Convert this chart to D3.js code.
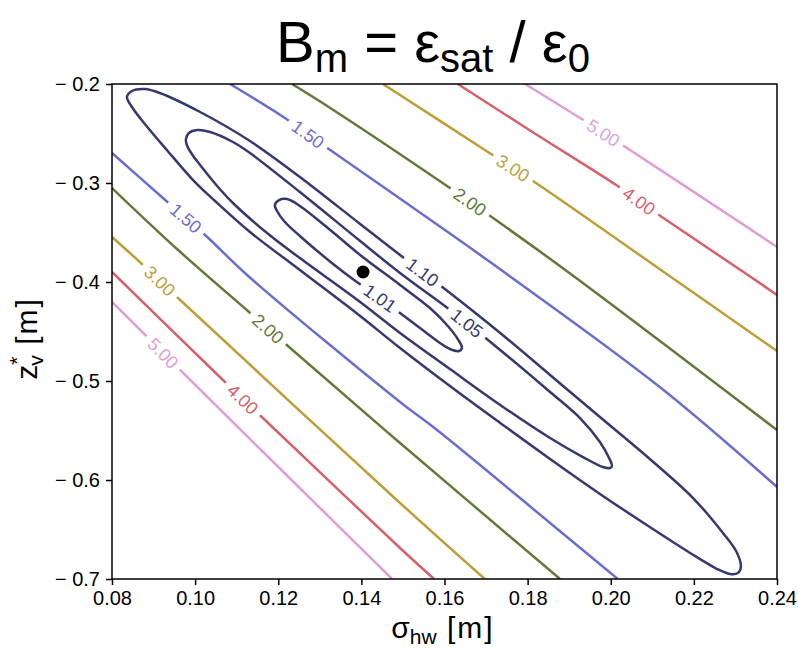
<!DOCTYPE html>
<html>
<head>
<meta charset="utf-8">
<script src="https://cdn.jsdelivr.net/npm/d3@7"></script>
<style>
  body { margin: 0; background: #fff; }
  text { font-family: 'Liberation Sans', Arial, sans-serif; }
</style>
</head>
<body>
<svg width="798" height="648"></svg>
<script>
// axis ticks
const xTicks = [0.08, 0.10, 0.12, 0.14, 0.16, 0.18, 0.20, 0.22, 0.24]
const yTicks = [-0.2, -0.3, -0.4, -0.5, -0.6, -0.7]

// closed contours round the optimum, [sigma_hw, z_v], upper side then lower side
const loop101 = [[0.1192,-0.3222],[0.1202,-0.3172],[0.1221,-0.3162],[0.1252,-0.3232],[0.1325,-0.3475],[0.1397,-0.3727],[0.1493,-0.4030],[0.1565,-0.4263],[0.1608,-0.4444],[0.1632,-0.4576],[0.1642,-0.4667],
  [0.1635,-0.4697],[0.1613,-0.4677],[0.1589,-0.4616],[0.1541,-0.4465],[0.1493,-0.4313],[0.1445,-0.4162],[0.1389,-0.4000],[0.1332,-0.3818],[0.1252,-0.3535],[0.1216,-0.3394],[0.1197,-0.3283]]
const loop105 = [[0.0978,-0.2556],[0.0985,-0.2495],[0.1005,-0.2465],[0.1036,-0.2485],[0.1091,-0.2586],[0.1132,-0.2697],[0.1252,-0.3091],[0.1397,-0.3586],[0.1493,-0.3909],[0.1604,-0.4253],[0.1654,-0.4414],[0.1734,-0.4687],[0.1854,-0.5111],[0.1926,-0.5374],[0.1974,-0.5616],[0.1996,-0.5778],[0.2003,-0.5859],
  [0.1998,-0.5879],[0.1981,-0.5869],[0.1933,-0.5768],[0.1854,-0.5576],[0.1734,-0.5242],[0.1613,-0.4879],[0.1493,-0.4515],[0.1397,-0.4202],[0.1252,-0.3758],[0.1173,-0.3505],[0.1091,-0.3202],[0.1053,-0.3030],[0.1012,-0.2818],[0.0992,-0.2707],[0.0980,-0.2616]]
const loop110 = [[0.0836,-0.2131],[0.0848,-0.2071],[0.0879,-0.2051],[0.0915,-0.2091],[0.1012,-0.2283],[0.1132,-0.2576],[0.1252,-0.2939],[0.1397,-0.3414],[0.1493,-0.3727],[0.1604,-0.4081],[0.1734,-0.4515],[0.1854,-0.4939],[0.1974,-0.5364],[0.2094,-0.5788],[0.2198,-0.6182],[0.2270,-0.6535],[0.2304,-0.6737],[0.2313,-0.6879],
  [0.2306,-0.6939],[0.2287,-0.6949],[0.2256,-0.6899],[0.2191,-0.6737],[0.2094,-0.6475],[0.1974,-0.6141],[0.1854,-0.5788],[0.1734,-0.5424],[0.1613,-0.5051],[0.1493,-0.4667],[0.1397,-0.4343],[0.1252,-0.3879],[0.1132,-0.3495],[0.1048,-0.3182],[0.0995,-0.2970],[0.0932,-0.2667],[0.0879,-0.2404],[0.0848,-0.2232]]

// open contours, upper-right and lower-left branch of each level
const line150a = [[0.1084,-0.2000],[0.1216,-0.2343],[0.1325,-0.2667],[0.1601,-0.3475],[0.1753,-0.3929],[0.2118,-0.5061],[0.2400,-0.6071]]
const line150b = [[0.0800,-0.2697],[0.0928,-0.3172],[0.1029,-0.3545],[0.1125,-0.3929],[0.1493,-0.5212],[0.1582,-0.5495],[0.1854,-0.6434],[0.2017,-0.7000]]
const line200a = [[0.1233,-0.2000],[0.1325,-0.2242],[0.1606,-0.3030],[0.1717,-0.3354],[0.1907,-0.3929],[0.2400,-0.5495]]
const line200b = [[0.0800,-0.3051],[0.0959,-0.3677],[0.1127,-0.4293],[0.1226,-0.4657],[0.1493,-0.5626],[0.1878,-0.7000]]
const line300a = [[0.1452,-0.2000],[0.1712,-0.2707],[0.1820,-0.3000],[0.2138,-0.3929],[0.2400,-0.4697]]
const line300b = [[0.0800,-0.3545],[0.0867,-0.3798],[0.0964,-0.4182],[0.1493,-0.6232],[0.1697,-0.7000]]
const line400a = [[0.1632,-0.2000],[0.1823,-0.2515],[0.2013,-0.3020],[0.2123,-0.3343],[0.2330,-0.3929],[0.2400,-0.4131]]
const line400b = [[0.0800,-0.3899],[0.1067,-0.4990],[0.1163,-0.5374],[0.1493,-0.6687],[0.1575,-0.7000]]
const line500a = [[0.1794,-0.2000],[0.1926,-0.2343],[0.2039,-0.2646],[0.2400,-0.3646]]
const line500b = [[0.0800,-0.4202],[0.0875,-0.4515],[0.0971,-0.4919],[0.1474,-0.7000]]

// inline label positions
const labels101 = [[0.1445,-0.4162]]
const labels105 = [[0.1654,-0.4414]]
const labels110 = [[0.1548,-0.3899]]
const labels150 = [[0.1272,-0.2505],[0.0978,-0.3354]]
const labels200 = [[0.1661,-0.3192],[0.1175,-0.4475]]
const labels300 = [[0.1765,-0.2848],[0.0915,-0.3990]]
const labels400 = [[0.2068,-0.3182],[0.1115,-0.5182]]
const labels500 = [[0.1982,-0.2495],[0.0923,-0.4717]]

// best point
const optimum = [0.1404, -0.3899]

const svg = d3.select('svg')
const margin = { left: 112, right: 21, top: 84, bottom: 69 }
const W = 798 - margin.left - margin.right
const H = 648 - margin.top - margin.bottom

const x = d3.scaleLinear().domain([0.08, 0.24]).range([margin.left, margin.left + W])
const y = d3.scaleLinear().domain([-0.2, -0.7]).range([margin.top, margin.top + H])

const navy = '#363870'
const contours = [
  { level: 1.01, color: navy, pts: loop101, closed: true, labels: labels101 },
  { level: 1.05, color: navy, pts: loop105, closed: true, labels: labels105 },
  { level: 1.10, color: navy, pts: loop110, closed: true, labels: labels110 },
  { level: 1.50, color: '#6b6ecf', pts: line150a, labels: [labels150[0]] },
  { level: 1.50, color: '#6b6ecf', pts: line150b, labels: [labels150[1]] },
  { level: 2.00, color: '#637939', pts: line200a, labels: [labels200[0]] },
  { level: 2.00, color: '#637939', pts: line200b, labels: [labels200[1]] },
  { level: 3.00, color: '#bd9e39', pts: line300a, labels: [labels300[0]] },
  { level: 3.00, color: '#bd9e39', pts: line300b, labels: [labels300[1]] },
  { level: 4.00, color: '#d6616b', pts: line400a, labels: [labels400[0]] },
  { level: 4.00, color: '#d6616b', pts: line400b, labels: [labels400[1]] },
  { level: 5.00, color: '#de9ed6', pts: line500a, labels: [labels500[0]] },
  { level: 5.00, color: '#de9ed6', pts: line500b, labels: [labels500[1]] }
]

const defs = svg.append('defs')
defs.append('clipPath').attr('id', 'plot-clip')
  .append('rect').attr('x', margin.left).attr('y', margin.top).attr('width', W).attr('height', H)

// nearest spot on a polyline (pixel space), with direction
function nearest(px, pts) {
  let best = null
  for (let i = 0; i < pts.length - 1; i++) {
    const [ax, ay] = pts[i], [bx, by] = pts[i + 1]
    const dx = bx - ax, dy = by - ay
    const t = Math.max(0, Math.min(1, ((px[0] - ax) * dx + (px[1] - ay) * dy) / (dx * dx + dy * dy)))
    const qx = ax + t * dx, qy = ay + t * dy
    const d = (qx - px[0]) ** 2 + (qy - px[1]) ** 2
    if (!best || d < best.d) best = { d, x: qx, y: qy, ang: Math.atan2(dy, dx) * 180 / Math.PI }
  }
  let a = best.ang
  if (a > 90) a -= 180
  if (a < -90) a += 180
  best.ang = a
  return best
}

const plot = svg.append('g').attr('clip-path', 'url(#plot-clip)')

contours.forEach((c, ci) => {
  const px = c.pts.map(p => [x(p[0]), y(p[1])])
  const gen = d3.line().curve(c.closed ? d3.curveCatmullRomClosed : d3.curveCatmullRom)
  // sample the smooth curve so labels sit on it
  const tmp = plot.append('path').attr('d', gen(px)).attr('fill', 'none')
  const len = tmp.node().getTotalLength()
  const dense = d3.range(0, len, 2).map(s => { const p = tmp.node().getPointAtLength(s); return [p.x, p.y] })
  tmp.remove()

  const maskId = 'm' + ci
  const mask = defs.append('mask').attr('id', maskId).attr('maskUnits', 'userSpaceOnUse')
    .attr('x', 0).attr('y', 0).attr('width', 798).attr('height', 648)
  mask.append('rect').attr('width', 798).attr('height', 648).attr('fill', '#fff')

  c.labels.forEach(l => {
    const n = nearest([x(l[0]), y(l[1])], dense)
    const t = plot.append('text')
      .attr('transform', `translate(${n.x},${n.y}) rotate(${n.ang})`)
      .attr('text-anchor', 'middle')
      .attr('dy', '0.36em')
      .attr('font-size', 18)
      .attr('fill', c.color)
      .text(c.level.toFixed(2))
    const tw = t.node().getComputedTextLength()
    mask.append('rect')
      .attr('x', -tw / 2 - 6).attr('y', -9).attr('width', tw + 12).attr('height', 18)
      .attr('transform', `translate(${n.x},${n.y}) rotate(${n.ang})`)
      .attr('fill', '#000')
  })

  plot.insert('path', 'text')
    .attr('d', gen(px))
    .attr('fill', 'none')
    .attr('stroke', c.color)
    .attr('stroke-width', 2.5)
    .attr('mask', `url(#${maskId})`)
})

// optimum marker
svg.append('circle')
  .attr('cx', x(optimum[0])).attr('cy', y(optimum[1]))
  .attr('r', 6.5).attr('fill', '#000')

// frame
svg.append('rect')
  .attr('x', margin.left).attr('y', margin.top).attr('width', W).attr('height', H)
  .attr('fill', 'none').attr('stroke', '#000').attr('stroke-width', 1.5)

// axes
const xAxis = svg.append('g')
  .attr('transform', `translate(0,${margin.top + H})`)
  .call(d3.axisBottom(x).tickValues(xTicks).tickFormat(d3.format('.2f')).tickSize(6).tickPadding(6))
const yAxis = svg.append('g')
  .attr('transform', `translate(${margin.left},0)`)
  .call(d3.axisLeft(y).tickValues(yTicks).tickFormat(d => '\u2212 ' + Math.abs(d).toFixed(1)).tickSize(6).tickPadding(6))

;[xAxis, yAxis].forEach(a => {
  a.select('.domain').remove()
  a.selectAll('line').attr('stroke', '#000').attr('stroke-width', 1.5)
  a.selectAll('text').attr('font-size', 20).attr('fill', '#000')
    .attr('font-family', "'Liberation Sans', Arial, sans-serif")
})

// title
const title = svg.append('text')
  .attr('x', 433).attr('y', 62)
  .attr('text-anchor', 'middle')
  .attr('font-size', 58)
title.append('tspan').text('B')
title.append('tspan').attr('font-size', 40).attr('dy', 10).text('m')
title.append('tspan').attr('dy', -10).text(' = \u03b5')
title.append('tspan').attr('font-size', 40).attr('dy', 10).text('sat')
title.append('tspan').attr('dy', -10).text(' / \u03b5')
title.append('tspan').attr('font-size', 40).attr('dy', 10).text('0')

// x label
const xl = svg.append('text')
  .attr('x', 443).attr('y', 638)
  .attr('text-anchor', 'middle')
  .attr('font-size', 30)
xl.append('tspan').text('\u03c3')
xl.append('tspan').attr('font-size', 21).attr('dy', 6).text('hw')
xl.append('tspan').attr('dy', -6).attr('letter-spacing', 2).text(' [m]')

// y label
const yl = svg.append('text')
  .attr('transform', `translate(37,${margin.top + H / 2 + 7}) rotate(-90)`)
  .attr('text-anchor', 'middle')
  .attr('font-size', 30)
yl.append('tspan').text('z')
yl.append('tspan').attr('font-size', 21).attr('dy', -13).text('*')
yl.append('tspan').attr('font-size', 21).attr('dy', 19).attr('dx', -9).text('v')
yl.append('tspan').attr('dy', -6).attr('letter-spacing', 2).text('   [m]')
</script>
</body>
</html>
